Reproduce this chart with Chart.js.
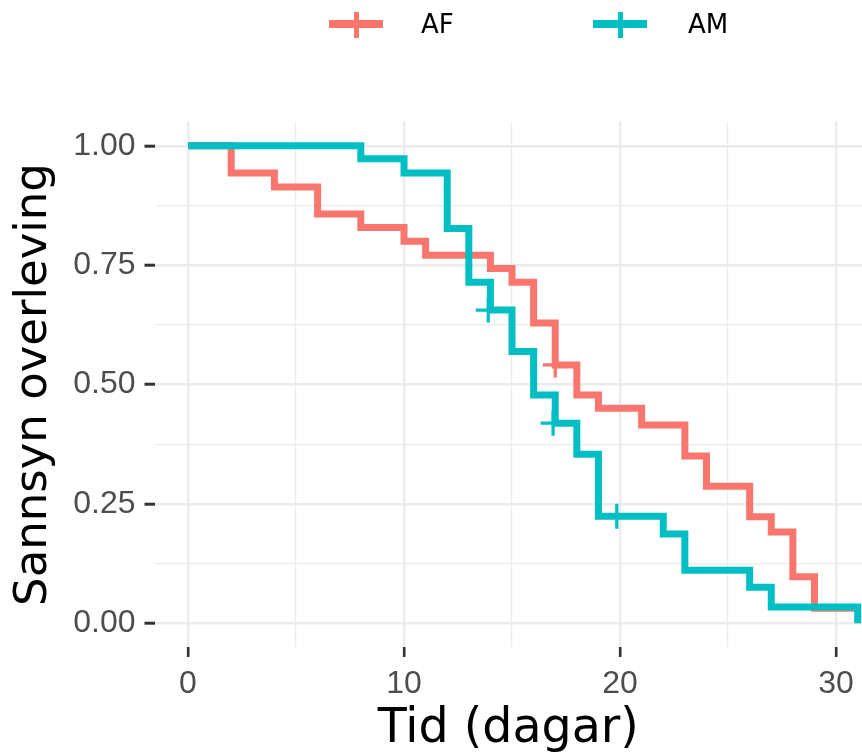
<!DOCTYPE html>
<html><head><meta charset="utf-8">
<script src="https://cdn.jsdelivr.net/npm/chart.js@4.4.0/dist/chart.umd.min.js"></script>
<style>
html,body{margin:0;padding:0;background:#fff;}
#wrap{position:relative;width:862px;height:753px;overflow:hidden;background:#fff;}
canvas{position:absolute;left:0;top:0;}
.sym{position:absolute;height:8px;width:54px;top:20px;}
.sym .v{position:absolute;left:25px;top:-8px;width:4.5px;height:26px;}
.lab{position:absolute;top:7px;font-family:"DejaVu Sans";font-size:26px;line-height:34px;color:#000;}
</style></head><body>
<div id="wrap"><canvas id="c" width="862" height="753"></canvas><div id="legend"></div></div>
<script>
const groups = ['AF', 'AM'];
const groupColors = ['#F8766D', '#00BFC4'];

const afTime = [0, 2, 4, 6, 8, 10, 11, 14, 15, 16, 17, 18, 19, 21, 23, 24, 26, 27, 28, 29, 31];
const afSurv = [1.00, 0.943, 0.914, 0.857, 0.829, 0.800, 0.771, 0.743, 0.714, 0.629, 0.541, 0.478, 0.450, 0.415, 0.350, 0.287, 0.223, 0.191, 0.097, 0.031, 0.031];
const amTime = [0, 8, 10, 12, 13, 14, 15, 16, 17, 18, 19, 22, 23, 26, 27, 31];
const amSurv = [1.00, 0.973, 0.943, 0.827, 0.714, 0.656, 0.569, 0.478, 0.419, 0.354, 0.224, 0.187, 0.111, 0.075, 0.034, 0.0];

const afCensorTime = [17];
const afCensorSurv = [0.541];
const amCensorTime = [13.9, 16.9, 19.85];
const amCensorSurv = [0.656, 0.419, 0.224];

const xTickLabels = [0, 10, 20, 30];
const yTickLabels = [0, 0.25, 0.5, 0.75, 1];

const xTitle = 'Tid (dagar)';
const yTitle = 'Sannsyn overleving';

function pts(t, s) { return t.map((v, i) => ({ x: v, y: s[i] })); }

// legend (HTML)
const legendPos = [{ sym: 329, lab: 421 }, { sym: 593, lab: 688 }];
const leg = document.getElementById('legend');
groups.forEach((g, i) => {
  const s = document.createElement('div');
  s.className = 'sym';
  s.style.left = legendPos[i].sym + 'px';
  s.style.background = groupColors[i];
  const v = document.createElement('div');
  v.className = 'v';
  v.style.background = groupColors[i];
  s.appendChild(v);
  leg.appendChild(s);
  const l = document.createElement('div');
  l.className = 'lab';
  l.style.left = legendPos[i].lab + 'px';
  l.textContent = g;
  leg.appendChild(l);
});

const isMajorX = v => xTickLabels.some(t => Math.abs(t - v) < 1e-9);
const isMajorY = v => yTickLabels.some(t => Math.abs(t - v) < 1e-9);

const lineDs = (label, data, color, order) => ({
  label, data, type: 'scatter', showLine: true, stepped: 'before',
  borderColor: color, backgroundColor: color, borderWidth: 7,
  pointRadius: 0, pointHoverRadius: 0, fill: false, order,
  borderJoinStyle: 'miter', borderCapStyle: 'butt'
});
const censorDs = (label, data, color) => ({
  label, data, type: 'scatter', showLine: false,
  pointStyle: 'cross', pointRadius: 12.5, pointHoverRadius: 12.5,
  pointBorderWidth: 3.3, borderColor: color, backgroundColor: color, order: 0
});

new Chart(document.getElementById('c'), {
  type: 'scatter',
  data: {
    datasets: [
      lineDs(groups[1], pts(amTime, amSurv), groupColors[1], 1),
      lineDs(groups[0], pts(afTime, afSurv), groupColors[0], 2),
      censorDs(groups[0] + ' censor', pts(afCensorTime, afCensorSurv), groupColors[0]),
      censorDs(groups[1] + ' censor', pts(amCensorTime, amCensorSurv), groupColors[1])
    ]
  },
  options: {
    responsive: false,
    animation: false,
    devicePixelRatio: 1,
    layout: { autoPadding: false, padding: { top: 122, left: 0, right: 0, bottom: 0 } },
    plugins: { legend: { display: false }, tooltip: { enabled: false } },
    scales: {
      x: {
        type: 'linear', min: -1.55, max: 31.2,
        afterFit: s => { s.height = 106; s.paddingLeft = 0; s.paddingRight = 0; },
        border: { display: false },
        grid: {
          color: '#EBEBEB',
          lineWidth: c => isMajorX(c.tick.value) ? 2.4 : 1.2,
          tickColor: c => isMajorX(c.tick.value) ? '#333333' : 'rgba(0,0,0,0)',
          tickWidth: 2.6, tickLength: 10, drawTicks: true
        },
        ticks: {
          stepSize: 5, includeBounds: false, autoSkip: false, maxRotation: 0,
          padding: 8, color: '#4D4D4D',
          font: { family: 'Liberation Sans', size: 32 },
          callback: v => isMajorX(v) ? String(v) : ''
        },
        title: {
          display: true, text: xTitle, color: '#000',
          font: { family: 'DejaVu Sans', size: 47.5, lineHeight: 1 },
          padding: { top: 0, bottom: 0 }
        }
      },
      y: {
        type: 'linear', min: -0.05, max: 1.05,
        afterFit: s => { s.width = 154.5; s.paddingTop = 0; s.paddingBottom = 0; },
        border: { display: false },
        grid: {
          color: '#EBEBEB',
          lineWidth: c => isMajorY(c.tick.value) ? 2.4 : 1.2,
          tickColor: c => isMajorY(c.tick.value) ? '#333333' : 'rgba(0,0,0,0)',
          tickWidth: 3, tickLength: 10, drawTicks: true
        },
        ticks: {
          stepSize: 0.125, includeBounds: false, autoSkip: false,
          padding: 9, color: '#4D4D4D',
          font: { family: 'Liberation Sans', size: 32 },
          callback: v => isMajorY(v) ? v.toFixed(2) : ''
        },
        title: {
          display: true, text: yTitle, color: '#000',
          font: { family: 'DejaVu Sans', size: 45, lineHeight: 1 },
          padding: { top: 12, bottom: 0 }
        }
      }
    }
  }
});
</script>
</body></html>
